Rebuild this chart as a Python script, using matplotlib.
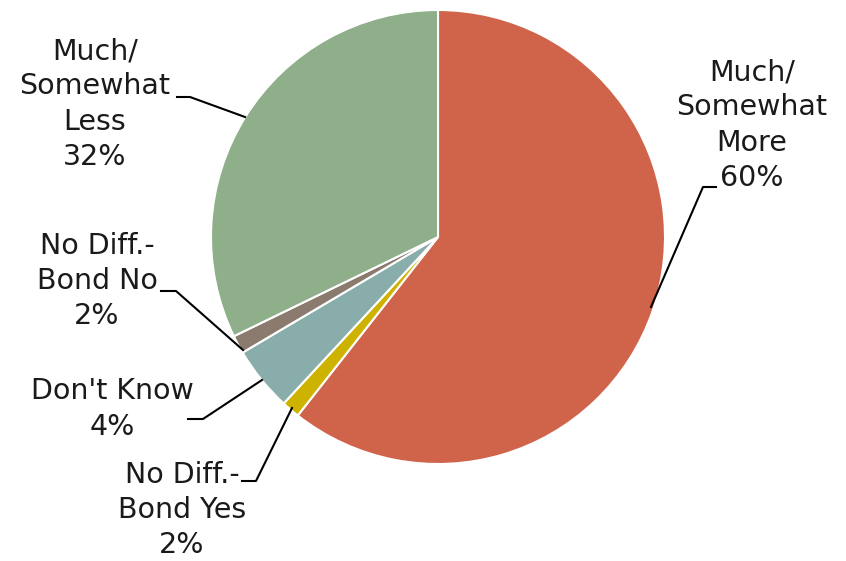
import matplotlib.pyplot as plt

# slice data, clockwise from 12 o'clock
labels = ["Much/\nSomewhat\nMore", "No Diff.-\nBond Yes", "Don't Know",
          "No Diff.-\nBond No", "Much/\nSomewhat\nLess"]
values = [60.6, 1.3, 4.6, 1.3, 32.2]
pct_text = ["60%", "2%", "4%", "2%", "32%"]
colors = ["#D0644B", "#CDB300", "#88ADAA", "#8B7B6F", "#8FAE8A"]

W, H = 846, 561
fig = plt.figure(figsize=(W / 100, H / 100), dpi=100)
ax = fig.add_axes([0, 0, 1, 1])

cx, cy, r = 438, H - 237, 227
ax.pie(values, colors=colors, startangle=90, counterclock=False,
       center=(cx, cy), radius=r,
       wedgeprops=dict(edgecolor="white", linewidth=1.5))
ax.set_xlim(0, W)
ax.set_ylim(0, H)
ax.set_aspect("equal")
ax.axis("off")

# label positions (text centre, leader line points) in pixels from top-left
lab_pos = [
    (752, 125, [(651, 307), (703, 187), (716, 187)]),
    (182, 510, [(292, 408), (256, 481), (242, 481)]),
    (112, 409, [(262, 380), (203, 419), (188, 419)]),
    (97, 281, [(243, 350), (176, 291), (161, 291)]),
    (95, 104, [(245, 117), (190, 97), (177, 97)]),
]

fs = 20.5
for lab, pct, (tx, ty, pts) in zip(labels, pct_text, lab_pos):
    ax.text(tx, H - ty, lab + "\n" + pct, ha="center", va="center",
            fontsize=fs, family="DejaVu Sans", linespacing=1.33,
            color="#1a1a1a")
    xs = [p[0] for p in pts]
    ys = [H - p[1] for p in pts]
    ax.plot(xs, ys, color="black", lw=1.5)

fig.savefig("out.png", dpi=100)
